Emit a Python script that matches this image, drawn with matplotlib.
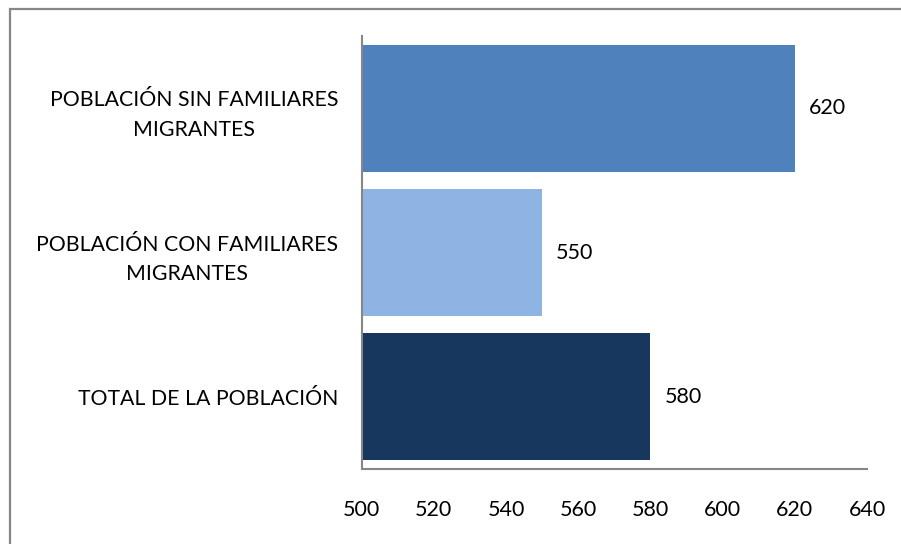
import matplotlib
matplotlib.use("Agg")
import matplotlib.pyplot as plt
from matplotlib.patches import Rectangle

categories = ["TOTAL DE LA POBLACIÓN",
              "POBLACIÓN CON FAMILIARES\nMIGRANTES",
              "POBLACIÓN SIN FAMILIARES\nMIGRANTES"]
values = [580, 550, 620]
colors = ["#17375E", "#8EB4E3", "#4F81BD"]
xticks = [500, 520, 540, 560, 580, 600, 620, 640]

plt.rcParams['font.family'] = ['Lato', 'DejaVu Sans']

W, H = 901, 544
fig = plt.figure(figsize=(W / 100, H / 100), dpi=100)
ax = fig.add_axes([361.7 / W, 1 - 469 / H, (867 - 361.7) / W, (469 - 36) / H])

ypos = list(range(len(categories)))
ax.barh(ypos, [v - 500 for v in values], left=500, height=0.88, color=colors)
ax.set_xlim(500, 640)
ax.set_ylim(-0.5, 2.5)

for y, v in zip(ypos, values):
    ax.annotate(str(v), xy=(v, y), xytext=(10, 0), textcoords="offset points",
                ha="left", va="center", fontsize=15.5, color="#000000")

ax.set_yticks(ypos)
ax.set_yticklabels(categories, fontsize=15.3, ha="right", multialignment="center",
                   linespacing=1.6)
ax.tick_params(axis="y", length=0, pad=17)
ax.set_xticks(xticks)
ax.set_xticklabels([str(t) for t in xticks], fontsize=15.5)
ax.tick_params(axis="x", length=0, pad=22)

for s in ["top", "right"]:
    ax.spines[s].set_visible(False)
for s in ["left", "bottom"]:
    ax.spines[s].set_color("#868686")
    ax.spines[s].set_linewidth(1.5)

# outer chart border (only top and left visible in the reference)
fig.patches.append(Rectangle((10 / W, -0.2), 1.2, 1 - 8.5 / H + 0.2,
                             transform=fig.transFigure, fill=False,
                             edgecolor="#878787", linewidth=1.6))

fig.savefig("out.png", dpi=100)
